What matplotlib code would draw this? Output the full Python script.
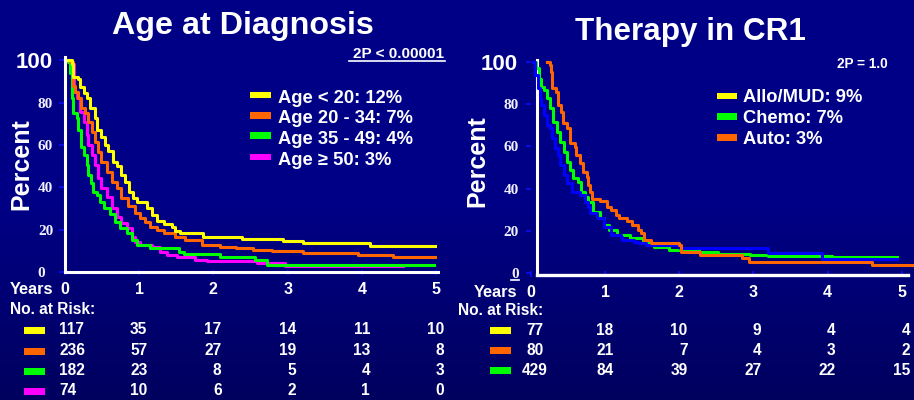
import numpy as np
import matplotlib.pyplot as plt
from matplotlib.patches import Rectangle
from matplotlib.lines import Line2D
from matplotlib.transforms import blended_transform_factory

W, H = 914, 400
SANS = ['Liberation Sans', 'DejaVu Sans']
SERIF = ['Liberation Serif', 'DejaVu Serif']
NAVY_LINE = '#0a10ff'

# ---- Age at Diagnosis: KM steps (years, % surviving); last entry = end of follow-up
age_lt20_t = [0, 0.09, 0.11, 0.18, 0.20, 0.25, 0.29, 0.34, 0.40, 0.43, 0.49, 0.54, 0.58, 0.65,
              0.70, 0.76, 0.81, 0.86, 0.92, 0.97, 1.10, 1.17, 1.24, 1.33, 1.44, 1.48, 1.55,
              1.86, 2.38, 2.94, 3.21, 4.11, 4.99]
age_lt20_s = [100, 98, 92, 91, 87.5, 84.5, 82, 77.5, 72.5, 67, 64, 60, 57, 52,
              50, 46, 42.5, 38, 35, 33.3, 30.2, 27, 24, 22.8, 21.6, 19.7, 18.4,
              16.6, 15.6, 15.0, 13.7, 12.6, 12.6]

age_20_34_t = [0, 0.07, 0.11, 0.13, 0.18, 0.22, 0.27, 0.31, 0.36, 0.40, 0.45, 0.49, 0.56, 0.63,
               0.70, 0.76, 0.85, 0.94, 1.01, 1.08, 1.15, 1.24, 1.33, 1.48, 1.62, 1.84, 2.09,
               2.31, 2.54, 2.79, 3.21, 3.95, 4.42, 4.98]
age_20_34_s = [100, 99, 88, 85, 82, 77.3, 75, 71, 66.3, 61.6, 56.8, 52, 47.4, 42.7,
               39.6, 35, 31.5, 28.2, 25.5, 23.9, 21.6, 20, 18.4, 16.9, 15.3, 13, 12.1,
               11.4, 10.6, 10.3, 9.0, 8.4, 7.4, 7.4]

age_35_49_t = [0, 0.04, 0.07, 0.09, 0.11, 0.16, 0.18, 0.22, 0.25, 0.29, 0.31, 0.35, 0.38, 0.43,
               0.47, 0.53, 0.60, 0.67, 0.74, 0.83, 0.90, 0.97, 1.15, 1.53, 1.60, 2.09, 2.56,
               2.72, 4.97]
age_35_49_s = [100, 99, 94, 82, 75, 72.5, 67, 59, 55.3, 50.6, 46, 42, 38, 36.5,
               33.3, 30.2, 27.5, 23.9, 20.8, 18.4, 15.3, 12.9, 11.4, 9.8, 8.7, 7.1, 5.9,
               3.5, 3.5]

age_ge50_t = [0, 0.07, 0.12, 0.16, 0.20, 0.25, 0.29, 0.31, 0.36, 0.40, 0.45, 0.49, 0.56, 0.63,
              0.70, 0.76, 0.83, 0.90, 0.94, 1.01, 1.17, 1.28, 1.37, 1.51, 1.75, 1.91, 2.59,
              2.97, 4.56]
age_ge50_s = [100, 98, 85, 82, 75.7, 71, 64.7, 60, 55.3, 50.6, 44.3, 39.6, 35.7, 30.2,
              26.3, 23.1, 20.8, 16.9, 14.5, 12.9, 12.1, 9.8, 8.2, 7.1, 5.9, 5.4, 4.6,
              3.1, 3.1]

# ---- Therapy in CR1
allo_t = [0.03, 0.05, 0.10, 0.12, 0.14, 0.17, 0.21, 0.26, 0.29, 0.32, 0.36, 0.39, 0.45, 0.48,
          0.55, 0.66, 0.73, 0.77, 0.80, 0.89, 0.98, 1.08, 1.21, 1.23, 1.39, 1.45, 1.55,
          2.01, 3.20, 3.92, 4.93]
allo_s = [100, 93.7, 87.4, 82.7, 79.5, 74.8, 70, 68.5, 63.8, 59, 55.9, 51.2, 46.5, 42.5,
          38.6, 37, 33.8, 31.5, 28.4, 26, 22, 18.1, 17, 15.7, 15, 14.2, 13.4,
          12, 9.4, 6.6, 6.6]

chemo_t = [0.03, 0.07, 0.11, 0.14, 0.18, 0.21, 0.26, 0.30, 0.35, 0.39, 0.44, 0.48, 0.53, 0.57,
           0.64, 0.68, 0.73, 0.77, 0.84, 0.93, 0.98, 1.05, 1.16, 1.33, 1.51, 1.66, 1.86,
           2.27, 2.52, 2.95, 3.20, 4.06, 4.93]
chemo_s = [100, 97, 92, 88.2, 86.6, 82.7, 78, 71.6, 66.9, 62.2, 57.5, 52.7, 48.8, 44.9,
           43.3, 38.6, 36.2, 33.8, 29.1, 26, 22.8, 20.5, 18.1, 16.5, 14.2, 12.6, 11,
           9.9, 9.1, 8.6, 8.2, 7.8, 7.8]

auto_t = [0.21, 0.25, 0.27, 0.29, 0.34, 0.36, 0.40, 0.43, 0.48, 0.52, 0.59, 0.61, 0.66, 0.70,
          0.75, 0.77, 0.80, 0.82, 0.93, 1.02, 1.08, 1.15, 1.19, 1.30, 1.36, 1.45, 1.49,
          1.53, 1.62, 2.00, 2.03, 2.28, 2.84, 2.94, 4.60, 5.15]
auto_s = [100, 98.4, 95.3, 87.4, 85.8, 79.5, 76.4, 70.9, 68.5, 61.4, 59.8, 55.9, 52, 48,
          45.7, 41.7, 38.6, 35, 34.2, 31.5, 29.9, 27.6, 26, 24.9, 22.8, 20.5, 18.9,
          15.7, 14.2, 13.4, 10, 8.6, 7.3, 5.5, 3.9, 3.9]

years = [0, 1, 2, 3, 4, 5]
age_labels = ['Age < 20: 12%', 'Age 20 - 34: 7%', 'Age 35 - 49: 4%', 'Age \u2265 50: 3%']
age_colors = ['#ffff00', '#ff6600', '#00ff00', '#ff00ff']
age_risk = [[117, 35, 17, 14, 11, 10],
            [236, 57, 27, 19, 13, 8],
            [182, 23, 8, 5, 4, 3],
            [74, 10, 6, 2, 1, 0]]

cr1_labels = ['Allo/MUD: 9%', 'Chemo: 7%', 'Auto: 3%']
cr1_legend_colors = ['#ffff00', '#00ff00', '#ff6600']
cr1_risk_colors = ['#ffff00', '#ff6600', '#00ff00']
cr1_risk = [[77, 18, 10, 9, 4, 4],
            [80, 21, 7, 4, 3, 2],
            [429, 84, 39, 27, 22, 15]]


def fx(px):
    return px / W


def fy(py):
    return 1 - py / H


fig = plt.figure(figsize=(W / 100, H / 100), dpi=100)

# navy backdrop, darkening toward the bottom
bg = fig.add_axes([0, 0, 1, 1], zorder=-10)
rows = np.linspace(0, 1, 200)
blue = np.where(rows < 0.5, 0.53, 0.53 - (rows - 0.5) / 0.5 * 0.16)
grad = np.zeros((200, 1, 3))
grad[:, 0, 2] = blue
bg.imshow(grad, aspect='auto', extent=[0, 1, 0, 1])
bg.set_axis_off()


def text(px, py, s, size, ha='left', va='center_baseline', family=SANS, **kw):
    fig.text(fx(px), fy(py), s, fontsize=size, ha=ha, va=va, color='white',
             fontweight='bold', family=family, **kw)


def setup_axes(rect, xlim, ylim, tick_dir, tick_len):
    ax = fig.add_axes(rect)
    ax.set_facecolor('none')
    ax.set_xlim(*xlim)
    ax.set_ylim(*ylim)
    for sp in ax.spines.values():
        sp.set_visible(False)
    ax.set_xticks(years)
    ax.set_yticks([0, 20, 40, 60, 80, 100])
    ax.tick_params(axis='x', direction=tick_dir, length=tick_len, width=1.2, color=NAVY_LINE,
                   labelbottom=False)
    ax.tick_params(axis='y', direction='inout', length=3.6, width=1.1, color=NAVY_LINE,
                   labelleft=False)
    return ax


# ---------------- left panel ----------------
axL = setup_axes([fx(61.3), fy(274.6), fx(437.5 - 61.3), (274.6 - 57.9) / H],
                 (-0.05, 5.02), (-1, 101), 'in', 3.6)
for t, s, c in [(age_ge50_t, age_ge50_s, age_colors[3]),
                (age_35_49_t, age_35_49_s, age_colors[2]),
                (age_20_34_t, age_20_34_s, age_colors[1]),
                (age_lt20_t, age_lt20_s, age_colors[0])]:
    axL.step(t, s, where='post', color=c, lw=2.2)
axL.plot([0, 0], [0.3, 101.5], color='white', lw=2.2, clip_on=False, zorder=3)
axL.plot([0, 5.02], [0.3, 0.3], color='white', lw=2.2, clip_on=False, zorder=3)

# ---------------- right panel ----------------
axR = setup_axes([fx(528.0), fy(276.5), fx(913.6 - 528.0), (276.5 - 59.6) / H],
                 (-0.04, 5.16), (-1.5, 101), 'in', 4.2)
axR.plot([0.08, 0.08], [-0.8, 100.8], color='white', lw=2.2, clip_on=False, zorder=2)
axR.plot([0.08, 5.09], [-0.8, -0.8], color='white', lw=2.4, clip_on=False, zorder=2)
axR.step(chemo_t, chemo_s, where='post', color='#00ff00', lw=2.2, zorder=3)
axR.step(allo_t, allo_s, where='post', color='#0000ff', lw=2.2, zorder=3)
axR.step(auto_t, auto_s, where='post', color='#ff6600', lw=2.2, zorder=3)

# ---------------- titles & p-values ----------------
text(242.5, 22.7, 'Age at Diagnosis', 23.2, ha='center')
text(690, 28.8, 'Therapy in CR1', 22.6, ha='center')
text(444, 52, '2P < 0.00001', 11, ha='right')
fig.add_artist(Line2D([fx(349), fx(445)], [fy(60.5)] * 2, color='white', lw=1.2))
text(888, 62, '2P = 1.0', 9.8, ha='right')

# y labels
fig.text(fx(21), fy(164), 'Percent', rotation=90, ha='center', va='center', fontsize=18,
         fontweight='bold', color='white', family=SANS)
fig.text(fx(477), fy(161), 'Percent', rotation=90, ha='center', va='center', fontsize=18,
         fontweight='bold', color='white', family=SANS)

for ax, right_px in [(axL, 52.7), (axR, 518)]:
    tr = blended_transform_factory(fig.transFigure, ax.transData)
    ax.text(fx(right_px), 100, '100', transform=tr, ha='right', va='center_baseline',
            fontsize=16, fontweight='bold', color='white', family=SANS)
    for v in [20, 40, 60, 80]:
        ax.text(fx(right_px + 0.5), v, str(v), transform=tr, ha='right', va='center_baseline',
                fontsize=11, fontweight='bold', color='#f0f0ff', family=SERIF)
trL = blended_transform_factory(fig.transFigure, axL.transData)
axL.text(fx(45), 0, '0', transform=trL, ha='right', va='center_baseline', fontsize=11,
         fontweight='bold', color='#f0f0ff', family=SERIF)
trR = blended_transform_factory(fig.transFigure, axR.transData)
axR.text(fx(518.5), 0, '0', transform=trR, ha='right', va='center_baseline', fontsize=11,
         fontweight='bold', color='#f0f0ff', family=SERIF)
fig.add_artist(Line2D([fx(511), fx(519)], [fy(280)] * 2, color='white', lw=1.2))

# ---------------- legends ----------------
for i, (lab, c) in enumerate(zip(age_labels, age_colors)):
    yc = [95, 115.3, 135.8, 157][i]
    fig.add_artist(Rectangle((fx(250), fy(yc + 3.4)), fx(20.7), 6.8 / H, color=c, lw=0))
    text(278, yc + 1.2, lab, 13.2)
for i, (lab, c) in enumerate(zip(cr1_labels, cr1_legend_colors)):
    yc = [96, 116.3, 137.5][i]
    fig.add_artist(Rectangle((fx(716.7), fy(yc + 3.4)), fx(20), 6.8 / H, color=c, lw=0))
    text(743, yc, lab, 13.2)

# ---------------- years axis & numbers at risk ----------------
def risk_table(ax, years_y, years_right, nar_x, nar_y, row_y, patch_x, risk, colors,
               first_ha, first_x):
    tr = blended_transform_factory(ax.transData, fig.transFigure)
    text(years_right, years_y, 'Years', 11.8, ha='right')
    for yr in years:
        ax.text(yr, fy(years_y), str(yr), transform=tr, ha='center', va='center_baseline',
                fontsize=11.5, fontweight='bold', color='white', family=SANS)
    text(nar_x, nar_y, 'No. at Risk:', 11.2)
    for counts, c, ry in zip(risk, colors, row_y):
        fig.add_artist(Rectangle((fx(patch_x), fy(ry + 2 + 3.3)), fx(21), 6.6 / H,
                                 color=c, lw=0))
        for j, (yr, n) in enumerate(zip(years, counts)):
            if j == 0:
                x, ha = first_x, first_ha
            else:
                x, ha = yr + 0.11, 'right'
            ax.text(x, fy(ry), str(n), transform=tr, ha=ha, va='center_baseline',
                    fontsize=11.2, fontweight='bold', color='white', family=SANS)


risk_table(axL, 288.5, 53, 10, 307.8, [328.3, 349.2, 369.2, 389.2], 24,
           age_risk, age_colors, 'left', -0.075)
risk_table(axR, 290.8, 517, 458.3, 309.2, [328.7, 348.7, 368.7], 490,
           cr1_risk, cr1_risk_colors, 'center', 0.054)

fig.savefig('out.png', dpi=100, facecolor='#000080')
